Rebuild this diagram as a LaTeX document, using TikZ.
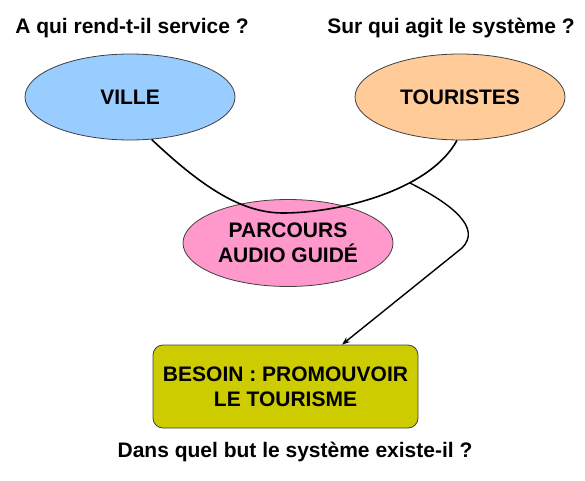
\documentclass[tikz,border=0pt]{standalone}
\usepackage{fontspec}
\setmainfont{Liberation Sans}
\usetikzlibrary{shapes.geometric,arrows.meta}
\definecolor{villefill}{HTML}{99CCFF}
\definecolor{touristfill}{HTML}{FFCC99}
\definecolor{parcoursfill}{HTML}{FF99CC}
\definecolor{besoinfill}{HTML}{CCCC00}
\definecolor{edgegray}{HTML}{404040}
\begin{document}
\begin{tikzpicture}[x=1pt,y=1pt,
  question/.style={font=\fontsize{21}{25}\selectfont\bfseries, inner sep=0pt},
  bubble/.style={ellipse, draw=edgegray, line width=0.8pt, inner sep=0pt,
    minimum width=210pt, minimum height=86pt, align=center,
    font=\fontsize{21}{25}\selectfont\bfseries},
  needbox/.style={rectangle, rounded corners=10pt, draw=edgegray, line width=0.8pt,
    fill=besoinfill, minimum width=265pt, minimum height=83pt, align=center,
    font=\fontsize{21}{25}\selectfont\bfseries},
  link/.style={line width=1.6pt, black},
  arrowlink/.style={line width=1.4pt, black, -{Stealth[length=8pt,width=6pt]}}]
\useasboundingbox (0,0) rectangle (585,480);
\node[question] (q1) at (132,452) {A qui rend-t-il service ?};
\node[question] (q2) at (451,452) {Sur qui agit le système ?};
\node[bubble, fill=villefill] (ville) at (130,383) {VILLE};
\node[bubble, fill=touristfill] (touristes) at (460,383) {TOURISTES};
\node[bubble, fill=parcoursfill, minimum width=210pt, minimum height=87pt] (parcours) at (288,237) {PARCOURS\\AUDIO GUIDÉ};
\node[needbox] (besoin) at (285.5,93.5) {BESOIN : PROMOUVOIR\\LE TOURISME};
\node[question] (q3) at (295,28) {Dans quel but le système existe-il ?};
\coordinate (dip) at (283,267);
\draw[link] (ville.-63) .. controls (200,295) and (240,267) .. (dip)
  .. controls (340,267) and (430,290) .. (touristes.-94) coordinate[pos=0.65] (br);
\coordinate (bend) at (462,232);
\draw[arrowlink] (br) .. controls (452,276) and (482,252) .. (bend) -- ([xshift=56.5pt]besoin.north);
\end{tikzpicture}
\end{document}
